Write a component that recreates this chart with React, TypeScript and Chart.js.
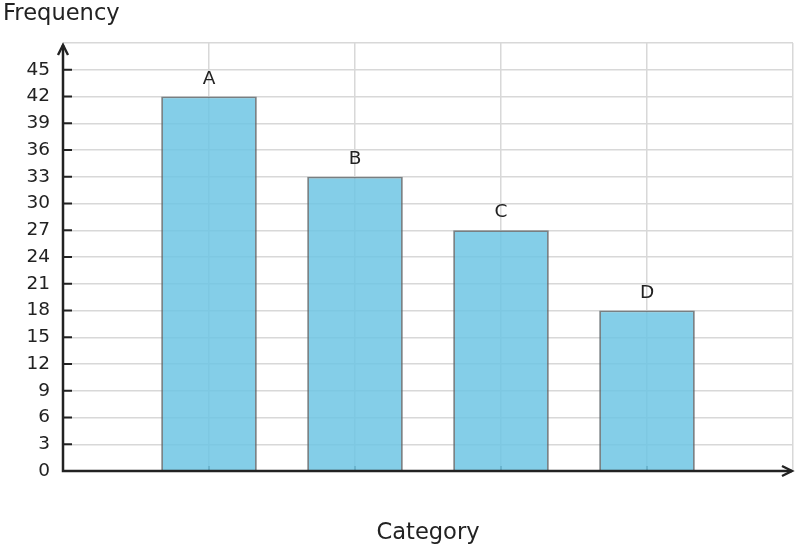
import React, { useEffect, useRef } from "react";
import { Chart, registerables } from "chart.js";

Chart.register(...registerables);

// ---- data ----
const categories = ["A", "B", "C", "D"];
const positions = [1, 2, 3, 4];
const frequencies = [42, 33, 27, 18];
const yTickLabels = [0, 3, 6, 9, 12, 15, 18, 21, 24, 27, 30, 33, 36, 39, 42, 45];
const yMax = 48;
const yStep = 3;
const xMax = 5;
const xTitle = "Category";
const yTitle = "Frequency";

const FONT = "'DejaVu Sans', 'Liberation Sans', sans-serif";
const INK = "#222222";
const GRID = "#d8d8d8";

export default function App() {
  const ref = useRef<HTMLCanvasElement>(null);

  useEffect(() => {
    const canvas = ref.current;
    if (!canvas) return;

    const decorations = {
      id: "decorations",
      beforeDatasetsDraw(chart: any) {
        const ctx = chart.ctx;
        const xs = chart.scales.x;
        const ys = chart.scales.y;
        const y0 = ys.getPixelForValue(0);
        ctx.save();
        ctx.strokeStyle = INK;
        ctx.lineWidth = 1.5;
        positions.forEach((p) => {
          const px = xs.getPixelForValue(p);
          ctx.beginPath();
          ctx.moveTo(px, y0);
          ctx.lineTo(px, y0 - 5);
          ctx.stroke();
        });
        ctx.restore();
      },
      afterDatasetsDraw(chart: any) {
        const ctx = chart.ctx;
        const xs = chart.scales.x;
        const ys = chart.scales.y;
        const area = chart.chartArea;
        const x0 = xs.getPixelForValue(0);
        const y0 = ys.getPixelForValue(0);
        const xEnd = xs.getPixelForValue(xMax);
        const yTop = ys.getPixelForValue(yMax);
        ctx.save();
        ctx.strokeStyle = INK;
        ctx.lineCap = "butt";

        // y tick marks (inside)
        ctx.lineWidth = 2;
        yTickLabels.forEach((v) => {
          if (v === 0) return;
          const py = ys.getPixelForValue(v);
          ctx.beginPath();
          ctx.moveTo(x0, py);
          ctx.lineTo(x0 + 9, py);
          ctx.stroke();
        });

        // axes
        ctx.lineWidth = 2.5;
        ctx.beginPath();
        ctx.moveTo(x0, y0);
        ctx.lineTo(x0, yTop + 2);
        ctx.moveTo(x0 - 1.25, y0);
        ctx.lineTo(xEnd - 1, y0);
        ctx.stroke();

        // arrow heads
        ctx.lineWidth = 2.4;
        ctx.lineJoin = "miter";
        ctx.beginPath();
        ctx.moveTo(x0 - 5, yTop + 12);
        ctx.lineTo(x0, yTop + 2);
        ctx.lineTo(x0 + 5, yTop + 12);
        ctx.stroke();
        ctx.beginPath();
        ctx.moveTo(xEnd - 11, y0 - 5);
        ctx.lineTo(xEnd - 1, y0);
        ctx.lineTo(xEnd - 11, y0 + 5);
        ctx.stroke();

        // bar labels
        ctx.fillStyle = INK;
        ctx.font = `18.5px ${FONT}`;
        ctx.textAlign = "center";
        ctx.textBaseline = "alphabetic";
        const meta = chart.getDatasetMeta(0);
        meta.data.forEach((bar: any, i: number) => {
          ctx.fillText(categories[i], bar.x, bar.y - 13);
        });

        // titles
        ctx.font = `22.6px ${FONT}`;
        ctx.textAlign = "left";
        ctx.fillText(yTitle, 3, 20);
        ctx.textAlign = "center";
        ctx.fillText(xTitle, (area.left + area.right) / 2, 539);
        ctx.restore();
      },
    };

    const chart = new Chart(canvas, {
      type: "bar",
      data: {
        datasets: [
          {
            data: positions.map((p, i) => ({ x: p, y: frequencies[i] })),
            backgroundColor: "rgba(110, 198, 228, 0.85)",
            borderColor: "rgba(100, 108, 112, 0.85)",
            borderWidth: 1.8,
            barPercentage: 0.655,
            categoryPercentage: 1,
          },
        ],
      },
      options: {
        responsive: false,
        animation: false,
        devicePixelRatio: 1,
        layout: { padding: { top: 43, right: 3, left: 0, bottom: 0 } },
        plugins: {
          legend: { display: false },
          tooltip: { enabled: false },
          title: { display: false },
        },
        scales: {
          x: {
            type: "linear",
            min: 0,
            max: xMax,
            offset: false,
            grid: { offset: false, color: GRID, lineWidth: 1.5, drawTicks: false },
            border: { display: false },
            ticks: { display: false, stepSize: 1 },
            afterFit: (s: any) => {
              s.height = 77;
            },
          },
          y: {
            type: "linear",
            min: 0,
            max: yMax,
            grid: { color: GRID, lineWidth: 1.5, drawTicks: false },
            border: { display: false },
            ticks: {
              stepSize: yStep,
              autoSkip: false,
              padding: 13,
              color: INK,
              font: { family: FONT, size: 18.5 },
              callback: (v: any) => (yTickLabels.includes(Number(v)) ? String(v) : ""),
            },
            afterFit: (s: any) => {
              s.width = 63;
            },
          },
        },
      } as any,
      plugins: [decorations],
    });

    return () => chart.destroy();
  }, []);

  return (
    <div style={{ position: "fixed", left: 0, top: 0, width: 796, height: 548, background: "#fff" }}>
      <canvas ref={ref} width={796} height={548} style={{ display: "block", width: 796, height: 548 }} />
    </div>
  );
}
